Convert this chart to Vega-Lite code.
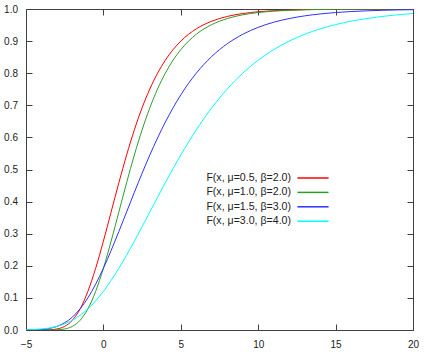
{
  "$schema": "https://vega.github.io/schema/vega-lite/v6.json",
  "width": 387,
  "height": 321,
  "autosize": "none",
  "padding": {"left": 26, "top": 9, "right": 12, "bottom": 25},
  "background": "white",
  "config": {
    "font": "Liberation Sans",
    "view": {"stroke": "#404040", "strokeWidth": 1},
    "axis": {
      "domain": false,
      "grid": false,
      "tickColor": "#404040",
      "tickSize": -6,
      "labelFont": "Liberation Sans",
      "labelFontSize": 10,
      "labelColor": "#222222",
      "labelFlush": false,
      "labelOverlap": false,
      "title": null
    },
    "legend": {
      "labelFont": "Liberation Sans",
      "labelFontSize": 10.6,
      "labelColor": "#222222"
    }
  },
  "data": {
    "values": [
      {"s": "F(x, μ=0.5, β=2.0)", "x": -5, "F": 0},
      {"s": "F(x, μ=0.5, β=2.0)", "x": -4, "F": 0.0001},
      {"s": "F(x, μ=0.5, β=2.0)", "x": -3.5, "F": 0.0006},
      {"s": "F(x, μ=0.5, β=2.0)", "x": -3, "F": 0.0032},
      {"s": "F(x, μ=0.5, β=2.0)", "x": -2.5, "F": 0.0113},
      {"s": "F(x, μ=0.5, β=2.0)", "x": -2, "F": 0.0305},
      {"s": "F(x, μ=0.5, β=2.0)", "x": -1.5, "F": 0.066},
      {"s": "F(x, μ=0.5, β=2.0)", "x": -1, "F": 0.1204},
      {"s": "F(x, μ=0.5, β=2.0)", "x": -0.5, "F": 0.1923},
      {"s": "F(x, μ=0.5, β=2.0)", "x": 0, "F": 0.2769},
      {"s": "F(x, μ=0.5, β=2.0)", "x": 0.5, "F": 0.3679},
      {"s": "F(x, μ=0.5, β=2.0)", "x": 1, "F": 0.459},
      {"s": "F(x, μ=0.5, β=2.0)", "x": 1.5, "F": 0.5452},
      {"s": "F(x, μ=0.5, β=2.0)", "x": 2, "F": 0.6235},
      {"s": "F(x, μ=0.5, β=2.0)", "x": 2.5, "F": 0.6922},
      {"s": "F(x, μ=0.5, β=2.0)", "x": 3, "F": 0.7509},
      {"s": "F(x, μ=0.5, β=2.0)", "x": 3.5, "F": 0.8},
      {"s": "F(x, μ=0.5, β=2.0)", "x": 4, "F": 0.8405},
      {"s": "F(x, μ=0.5, β=2.0)", "x": 5, "F": 0.9},
      {"s": "F(x, μ=0.5, β=2.0)", "x": 6, "F": 0.9381},
      {"s": "F(x, μ=0.5, β=2.0)", "x": 7, "F": 0.962},
      {"s": "F(x, μ=0.5, β=2.0)", "x": 8, "F": 0.9768},
      {"s": "F(x, μ=0.5, β=2.0)", "x": 9, "F": 0.9858},
      {"s": "F(x, μ=0.5, β=2.0)", "x": 10, "F": 0.9914},
      {"s": "F(x, μ=0.5, β=2.0)", "x": 11, "F": 0.9948},
      {"s": "F(x, μ=0.5, β=2.0)", "x": 12, "F": 0.9968},
      {"s": "F(x, μ=0.5, β=2.0)", "x": 13, "F": 0.9981},
      {"s": "F(x, μ=0.5, β=2.0)", "x": 14, "F": 0.9988},
      {"s": "F(x, μ=0.5, β=2.0)", "x": 15, "F": 0.9993},
      {"s": "F(x, μ=0.5, β=2.0)", "x": 16, "F": 0.9996},
      {"s": "F(x, μ=0.5, β=2.0)", "x": 17, "F": 0.9997},
      {"s": "F(x, μ=0.5, β=2.0)", "x": 18, "F": 0.9998},
      {"s": "F(x, μ=0.5, β=2.0)", "x": 19, "F": 0.9999},
      {"s": "F(x, μ=0.5, β=2.0)", "x": 20, "F": 0.9999},

      {"s": "F(x, μ=1.0, β=2.0)", "x": -5, "F": 0},
      {"s": "F(x, μ=1.0, β=2.0)", "x": -4, "F": 0},
      {"s": "F(x, μ=1.0, β=2.0)", "x": -3.5, "F": 0.0001},
      {"s": "F(x, μ=1.0, β=2.0)", "x": -3, "F": 0.0006},
      {"s": "F(x, μ=1.0, β=2.0)", "x": -2.5, "F": 0.0032},
      {"s": "F(x, μ=1.0, β=2.0)", "x": -2, "F": 0.0113},
      {"s": "F(x, μ=1.0, β=2.0)", "x": -1.5, "F": 0.0305},
      {"s": "F(x, μ=1.0, β=2.0)", "x": -1, "F": 0.066},
      {"s": "F(x, μ=1.0, β=2.0)", "x": -0.5, "F": 0.1204},
      {"s": "F(x, μ=1.0, β=2.0)", "x": 0, "F": 0.1923},
      {"s": "F(x, μ=1.0, β=2.0)", "x": 0.5, "F": 0.2769},
      {"s": "F(x, μ=1.0, β=2.0)", "x": 1, "F": 0.3679},
      {"s": "F(x, μ=1.0, β=2.0)", "x": 1.5, "F": 0.459},
      {"s": "F(x, μ=1.0, β=2.0)", "x": 2, "F": 0.5452},
      {"s": "F(x, μ=1.0, β=2.0)", "x": 2.5, "F": 0.6235},
      {"s": "F(x, μ=1.0, β=2.0)", "x": 3, "F": 0.6922},
      {"s": "F(x, μ=1.0, β=2.0)", "x": 3.5, "F": 0.7509},
      {"s": "F(x, μ=1.0, β=2.0)", "x": 4, "F": 0.8},
      {"s": "F(x, μ=1.0, β=2.0)", "x": 4.5, "F": 0.8405},
      {"s": "F(x, μ=1.0, β=2.0)", "x": 5, "F": 0.8734},
      {"s": "F(x, μ=1.0, β=2.0)", "x": 6, "F": 0.9212},
      {"s": "F(x, μ=1.0, β=2.0)", "x": 7, "F": 0.9514},
      {"s": "F(x, μ=1.0, β=2.0)", "x": 8, "F": 0.9702},
      {"s": "F(x, μ=1.0, β=2.0)", "x": 9, "F": 0.9819},
      {"s": "F(x, μ=1.0, β=2.0)", "x": 10, "F": 0.989},
      {"s": "F(x, μ=1.0, β=2.0)", "x": 11, "F": 0.9933},
      {"s": "F(x, μ=1.0, β=2.0)", "x": 12, "F": 0.9959},
      {"s": "F(x, μ=1.0, β=2.0)", "x": 13, "F": 0.9975},
      {"s": "F(x, μ=1.0, β=2.0)", "x": 14, "F": 0.9985},
      {"s": "F(x, μ=1.0, β=2.0)", "x": 15, "F": 0.9991},
      {"s": "F(x, μ=1.0, β=2.0)", "x": 16, "F": 0.9994},
      {"s": "F(x, μ=1.0, β=2.0)", "x": 17, "F": 0.9997},
      {"s": "F(x, μ=1.0, β=2.0)", "x": 18, "F": 0.9998},
      {"s": "F(x, μ=1.0, β=2.0)", "x": 19, "F": 0.9999},
      {"s": "F(x, μ=1.0, β=2.0)", "x": 20, "F": 0.9999},

      {"s": "F(x, μ=1.5, β=3.0)", "x": -5, "F": 0.0002},
      {"s": "F(x, μ=1.5, β=3.0)", "x": -4, "F": 0.0019},
      {"s": "F(x, μ=1.5, β=3.0)", "x": -3, "F": 0.0113},
      {"s": "F(x, μ=1.5, β=3.0)", "x": -2, "F": 0.0403},
      {"s": "F(x, μ=1.5, β=3.0)", "x": -1, "F": 0.1002},
      {"s": "F(x, μ=1.5, β=3.0)", "x": 0, "F": 0.1923},
      {"s": "F(x, μ=1.5, β=3.0)", "x": 1, "F": 0.3069},
      {"s": "F(x, μ=1.5, β=3.0)", "x": 2, "F": 0.4289},
      {"s": "F(x, μ=1.5, β=3.0)", "x": 3, "F": 0.5452},
      {"s": "F(x, μ=1.5, β=3.0)", "x": 4, "F": 0.6475},
      {"s": "F(x, μ=1.5, β=3.0)", "x": 5, "F": 0.7324},
      {"s": "F(x, μ=1.5, β=3.0)", "x": 6, "F": 0.8},
      {"s": "F(x, μ=1.5, β=3.0)", "x": 7, "F": 0.8522},
      {"s": "F(x, μ=1.5, β=3.0)", "x": 8, "F": 0.8917},
      {"s": "F(x, μ=1.5, β=3.0)", "x": 9, "F": 0.9212},
      {"s": "F(x, μ=1.5, β=3.0)", "x": 10, "F": 0.9429},
      {"s": "F(x, μ=1.5, β=3.0)", "x": 11, "F": 0.9588},
      {"s": "F(x, μ=1.5, β=3.0)", "x": 12, "F": 0.9702},
      {"s": "F(x, μ=1.5, β=3.0)", "x": 13, "F": 0.9786},
      {"s": "F(x, μ=1.5, β=3.0)", "x": 14, "F": 0.9846},
      {"s": "F(x, μ=1.5, β=3.0)", "x": 15, "F": 0.989},
      {"s": "F(x, μ=1.5, β=3.0)", "x": 16, "F": 0.9921},
      {"s": "F(x, μ=1.5, β=3.0)", "x": 17, "F": 0.9943},
      {"s": "F(x, μ=1.5, β=3.0)", "x": 18, "F": 0.9959},
      {"s": "F(x, μ=1.5, β=3.0)", "x": 19, "F": 0.9971},
      {"s": "F(x, μ=1.5, β=3.0)", "x": 20, "F": 0.9979},

      {"s": "F(x, μ=3.0, β=4.0)", "x": -5, "F": 0.0006},
      {"s": "F(x, μ=3.0, β=4.0)", "x": -4, "F": 0.0032},
      {"s": "F(x, μ=3.0, β=4.0)", "x": -3, "F": 0.0113},
      {"s": "F(x, μ=3.0, β=4.0)", "x": -2, "F": 0.0305},
      {"s": "F(x, μ=3.0, β=4.0)", "x": -1, "F": 0.066},
      {"s": "F(x, μ=3.0, β=4.0)", "x": 0, "F": 0.1204},
      {"s": "F(x, μ=3.0, β=4.0)", "x": 1, "F": 0.1923},
      {"s": "F(x, μ=3.0, β=4.0)", "x": 2, "F": 0.2769},
      {"s": "F(x, μ=3.0, β=4.0)", "x": 3, "F": 0.3679},
      {"s": "F(x, μ=3.0, β=4.0)", "x": 4, "F": 0.459},
      {"s": "F(x, μ=3.0, β=4.0)", "x": 5, "F": 0.5452},
      {"s": "F(x, μ=3.0, β=4.0)", "x": 6, "F": 0.6235},
      {"s": "F(x, μ=3.0, β=4.0)", "x": 7, "F": 0.6922},
      {"s": "F(x, μ=3.0, β=4.0)", "x": 8, "F": 0.7509},
      {"s": "F(x, μ=3.0, β=4.0)", "x": 9, "F": 0.8},
      {"s": "F(x, μ=3.0, β=4.0)", "x": 10, "F": 0.8405},
      {"s": "F(x, μ=3.0, β=4.0)", "x": 11, "F": 0.8734},
      {"s": "F(x, μ=3.0, β=4.0)", "x": 12, "F": 0.9},
      {"s": "F(x, μ=3.0, β=4.0)", "x": 13, "F": 0.9212},
      {"s": "F(x, μ=3.0, β=4.0)", "x": 14, "F": 0.9381},
      {"s": "F(x, μ=3.0, β=4.0)", "x": 15, "F": 0.9514},
      {"s": "F(x, μ=3.0, β=4.0)", "x": 16, "F": 0.962},
      {"s": "F(x, μ=3.0, β=4.0)", "x": 17, "F": 0.9702},
      {"s": "F(x, μ=3.0, β=4.0)", "x": 18, "F": 0.9768},
      {"s": "F(x, μ=3.0, β=4.0)", "x": 19, "F": 0.9819},
      {"s": "F(x, μ=3.0, β=4.0)", "x": 20, "F": 0.9858}
    ]
  },
  "layer": [
    {
      "mark": {"type": "line", "strokeWidth": 1, "interpolate": "monotone", "clip": true},
      "encoding": {
        "x": {
          "field": "x", "type": "quantitative",
          "scale": {"domain": [-5, 20], "nice": false, "zero": false},
          "axis": {"orient": "bottom", "values": [-5, 0, 5, 10, 15, 20], "format": "d", "labelPadding": 15}
        },
        "y": {
          "field": "F", "type": "quantitative",
          "scale": {"domain": [0, 1], "nice": false},
          "axis": {"orient": "left", "values": [0, 0.1, 0.2, 0.3, 0.4, 0.5, 0.6, 0.7, 0.8, 0.9, 1.0], "format": ".1f", "labelPadding": 14.5}
        },
        "color": {
          "field": "s", "type": "nominal",
          "scale": {
            "domain": ["F(x, μ=0.5, β=2.0)", "F(x, μ=1.0, β=2.0)", "F(x, μ=1.5, β=3.0)", "F(x, μ=3.0, β=4.0)"],
            "range": ["#ff0000", "#2a9f2a", "#3030ff", "#00ffff"]
          },
          "legend": {
            "title": null,
            "orient": "none",
            "legendX": 281,
            "legendY": 163,
            "padding": 0,
            "symbolType": "M-3,0H3",
            "symbolSize": 108,
            "symbolStrokeWidth": 1.5,
            "labelAlign": "right",
            "labelOffset": -28,
            "rowPadding": 2.4
          }
        }
      }
    },
    {
      "mark": {"type": "line", "opacity": 0},
      "encoding": {
        "x": {
          "field": "x", "type": "quantitative",
          "axis": {"orient": "top", "values": [-5, 0, 5, 10, 15, 20], "labels": false}
        },
        "y": {
          "field": "F", "type": "quantitative",
          "axis": {"orient": "right", "values": [0, 0.1, 0.2, 0.3, 0.4, 0.5, 0.6, 0.7, 0.8, 0.9, 1.0], "labels": false}
        },
        "detail": {"field": "s"}
      }
    }
  ],
  "resolve": {"axis": {"x": "independent", "y": "independent"}}
}
